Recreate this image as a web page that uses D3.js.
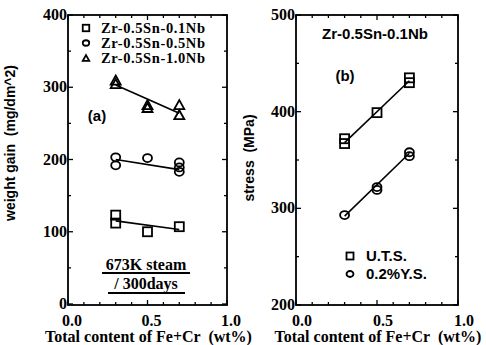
<!DOCTYPE html>
<html>
<head>
<meta charset="utf-8">
<script src="https://cdn.jsdelivr.net/npm/d3@7"></script>
<style>
  body { margin: 0; background: #fff; }
  .serif { font-family: "Liberation Serif", "DejaVu Serif", serif; font-weight: bold; }
  .sans { font-family: "Liberation Sans", Arial, sans-serif; font-weight: bold; }
</style>
</head>
<body>
<div id="chart"></div>
<script>
// Panel (a): weight gain vs Fe+Cr content
const nb01X = [0.3, 0.3, 0.5, 0.7];
const nb01Y = [123, 112, 100, 107];
const nb05X = [0.3, 0.3, 0.5, 0.7, 0.7, 0.7];
const nb05Y = [203, 192, 202, 196, 189, 183];
const nb10X = [0.3, 0.3, 0.5, 0.5, 0.7, 0.7];
const nb10Y = [310, 305, 276, 272, 276, 262];
const fitX = [0.3, 0.7];
const nb01Fit = [115, 103];
const nb05Fit = [200, 186];
const nb10Fit = [303, 264];
const legendA = ["Zr-0.5Sn-0.1Nb", "Zr-0.5Sn-0.5Nb", "Zr-0.5Sn-1.0Nb"];

// Panel (b): strength of Zr-0.5Sn-0.1Nb
const utsX = [0.3, 0.3, 0.5, 0.7, 0.7];
const utsY = [372, 367, 399, 435, 430];
const utsFit = [368, 432];
const ysX = [0.3, 0.5, 0.5, 0.7, 0.7];
const ysY = [293, 322, 319, 358, 354];
const ysFit = [292, 357];
const legendB = ["U.T.S.", "0.2%Y.S."];

const xTicks = [0, 0.5, 1.0];
const yTicksA = [0, 100, 200, 300, 400];
const yTicksB = [200, 300, 400, 500];

const svg = d3.select("#chart").append("svg")
    .attr("width", 486)
    .attr("height", 345);

const plotTop = 15, plotBottom = 305;

// marker drawers
function square(g, x, y, s) {
    g.append("rect").attr("x", x - s / 2).attr("y", y - s / 2)
        .attr("width", s).attr("height", s)
        .attr("fill", "none").attr("stroke", "#000").attr("stroke-width", 1.8);
}
function circle(g, x, y, s) {
    g.append("ellipse").attr("cx", x).attr("cy", y)
        .attr("rx", s / 2).attr("ry", s / 2 - 0.5)
        .attr("fill", "none").attr("stroke", "#000").attr("stroke-width", 1.8);
}
function triangle(g, x, y, s) {
    const h = s * 0.9;
    g.append("path")
        .attr("d", `M${x},${y - h / 2}L${x + s / 2},${y + h / 2}L${x - s / 2},${y + h / 2}Z`)
        .attr("fill", "none").attr("stroke", "#000").attr("stroke-width", 1.8);
}

function drawFrame(x, y, yMinor, xLabelShift) {
    const g = svg.append("g");
    const [x0, x1] = x.range();
    g.append("rect").attr("x", x0).attr("y", plotTop)
        .attr("width", x1 - x0).attr("height", plotBottom - plotTop)
        .attr("fill", "none").attr("stroke", "#000").attr("stroke-width", 1.8);

    // x ticks every 0.1, inward, on bottom and top
    d3.range(0, 11).forEach(i => {
        const v = i / 10;
        const len = (i % 5 === 0) ? 5 : 3;
        g.append("line").attr("x1", x(v)).attr("x2", x(v))
            .attr("y1", plotBottom).attr("y2", plotBottom - len)
            .attr("stroke", "#000").attr("stroke-width", 1.3);
        g.append("line").attr("x1", x(v)).attr("x2", x(v))
            .attr("y1", plotTop).attr("y2", plotTop + len)
            .attr("stroke", "#000").attr("stroke-width", 1.3);
    });
    // y ticks, inward on both sides
    yMinor.forEach((v, i) => {
        const len = (i % 2 === 0) ? 5 : 3;
        g.append("line").attr("x1", x0).attr("x2", x0 + len)
            .attr("y1", y(v)).attr("y2", y(v))
            .attr("stroke", "#000").attr("stroke-width", 1.3);
        g.append("line").attr("x1", x1).attr("x2", x1 - len)
            .attr("y1", y(v)).attr("y2", y(v))
            .attr("stroke", "#000").attr("stroke-width", 1.3);
    });

    // tick labels
    xTicks.forEach(v => {
        g.append("text").attr("class", "serif")
            .attr("x", x(v) + xLabelShift).attr("y", 326)
            .attr("text-anchor", "middle").attr("font-size", 16)
            .text(d3.format(".1f")(v));
    });
    g.append("text").attr("class", "serif")
        .attr("x", (x0 + x1) / 2 + 1).attr("y", 342)
        .attr("text-anchor", "middle").attr("font-size", 16)
        .attr("xml:space", "preserve")
        .text("Total content of Fe+Cr  (wt%)");
    return g;
}

function yLabels(g, x, y, ticks) {
    ticks.forEach(v => {
        g.append("text").attr("class", "serif")
            .attr("x", x.range()[0] - 1).attr("y", y(v) + 5)
            .attr("text-anchor", "end").attr("font-size", 16)
            .text(v);
    });
}

function fit(g, x, y, vals) {
    g.append("path")
        .attr("d", d3.line().x((d, i) => x(fitX[i])).y(d => y(d))(vals))
        .attr("fill", "none").attr("stroke", "#000").attr("stroke-width", 1.6);
}

// ---------- panel (a)
const xA = d3.scaleLinear().domain([0, 1]).range([68, 227]);
const yA = d3.scaleLinear().domain([0, 400]).range([304, plotTop]);
const gA = drawFrame(xA, yA, d3.range(0, 401, 50), 4);
yLabels(gA, xA, yA, yTicksA);

gA.append("text").attr("class", "sans")
    .attr("transform", `translate(15,143) rotate(-90)`)
    .attr("text-anchor", "middle").attr("font-size", 14)
    .attr("xml:space", "preserve")
    .text("weight gain  (mg/dm^2)");

fit(gA, xA, yA, nb01Fit);
fit(gA, xA, yA, nb05Fit);
fit(gA, xA, yA, nb10Fit);
nb01X.forEach((v, i) => square(gA, xA(v), yA(nb01Y[i]), 9));
nb05X.forEach((v, i) => circle(gA, xA(v), yA(nb05Y[i]), 9));
nb10X.forEach((v, i) => triangle(gA, xA(v), yA(nb10Y[i]), 10));

// legend (a)
const markA = [square, circle, triangle];
legendA.forEach((t, i) => {
    const ly = 28 + i * 15;
    markA[i](gA, 86, ly, 6.5);
    gA.append("text").attr("class", "serif")
        .attr("x", 101).attr("y", ly + 5).attr("font-size", 14.5)
        .attr("letter-spacing", 0.6)
        .text(t);
});

gA.append("text").attr("class", "sans")
    .attr("x", 97).attr("y", 121).attr("text-anchor", "middle").attr("font-size", 15)
    .text("(a)");

// condition note
gA.append("text").attr("class", "serif")
    .attr("x", 146).attr("y", 270).attr("text-anchor", "middle").attr("font-size", 16)
    .text("673K steam");
gA.append("line").attr("x1", 102).attr("x2", 190).attr("y1", 273).attr("y2", 273)
    .attr("stroke", "#000").attr("stroke-width", 2);
gA.append("text").attr("class", "serif")
    .attr("x", 146).attr("y", 289).attr("text-anchor", "middle").attr("font-size", 16)
    .text("/ 300days");
gA.append("line").attr("x1", 108).attr("x2", 185).attr("y1", 293).attr("y2", 293)
    .attr("stroke", "#000").attr("stroke-width", 2);

// ---------- panel (b)
const xB = d3.scaleLinear().domain([0, 1]).range([296, 458]);
const yB = d3.scaleLinear().domain([200, 500]).range([plotBottom, plotTop]);
const gB = drawFrame(xB, yB, d3.range(200, 501, 50), 6);
yLabels(gB, xB, yB, yTicksB);

gB.append("text").attr("class", "sans")
    .attr("transform", `translate(254,158) rotate(-90)`)
    .attr("text-anchor", "middle").attr("font-size", 14)
    .attr("xml:space", "preserve")
    .text("stress  (MPa)");

fit(gB, xB, yB, utsFit);
fit(gB, xB, yB, ysFit);
utsX.forEach((v, i) => square(gB, xB(v), yB(utsY[i]), 9));
ysX.forEach((v, i) => circle(gB, xB(v), yB(ysY[i]), 9));

gB.append("text").attr("class", "sans")
    .attr("x", 375).attr("y", 39).attr("text-anchor", "middle").attr("font-size", 15)
    .text("Zr-0.5Sn-0.1Nb");
gB.append("text").attr("class", "sans")
    .attr("x", 345).attr("y", 81).attr("text-anchor", "middle").attr("font-size", 15)
    .text("(b)");

const markB = [square, circle];
legendB.forEach((t, i) => {
    const ly = 256 + i * 18;
    markB[i](gB, 350, ly, 7);
    gB.append("text").attr("class", "sans")
        .attr("x", 366).attr("y", ly + 5).attr("font-size", 15)
        .text(t);
});
</script>
</body>
</html>
